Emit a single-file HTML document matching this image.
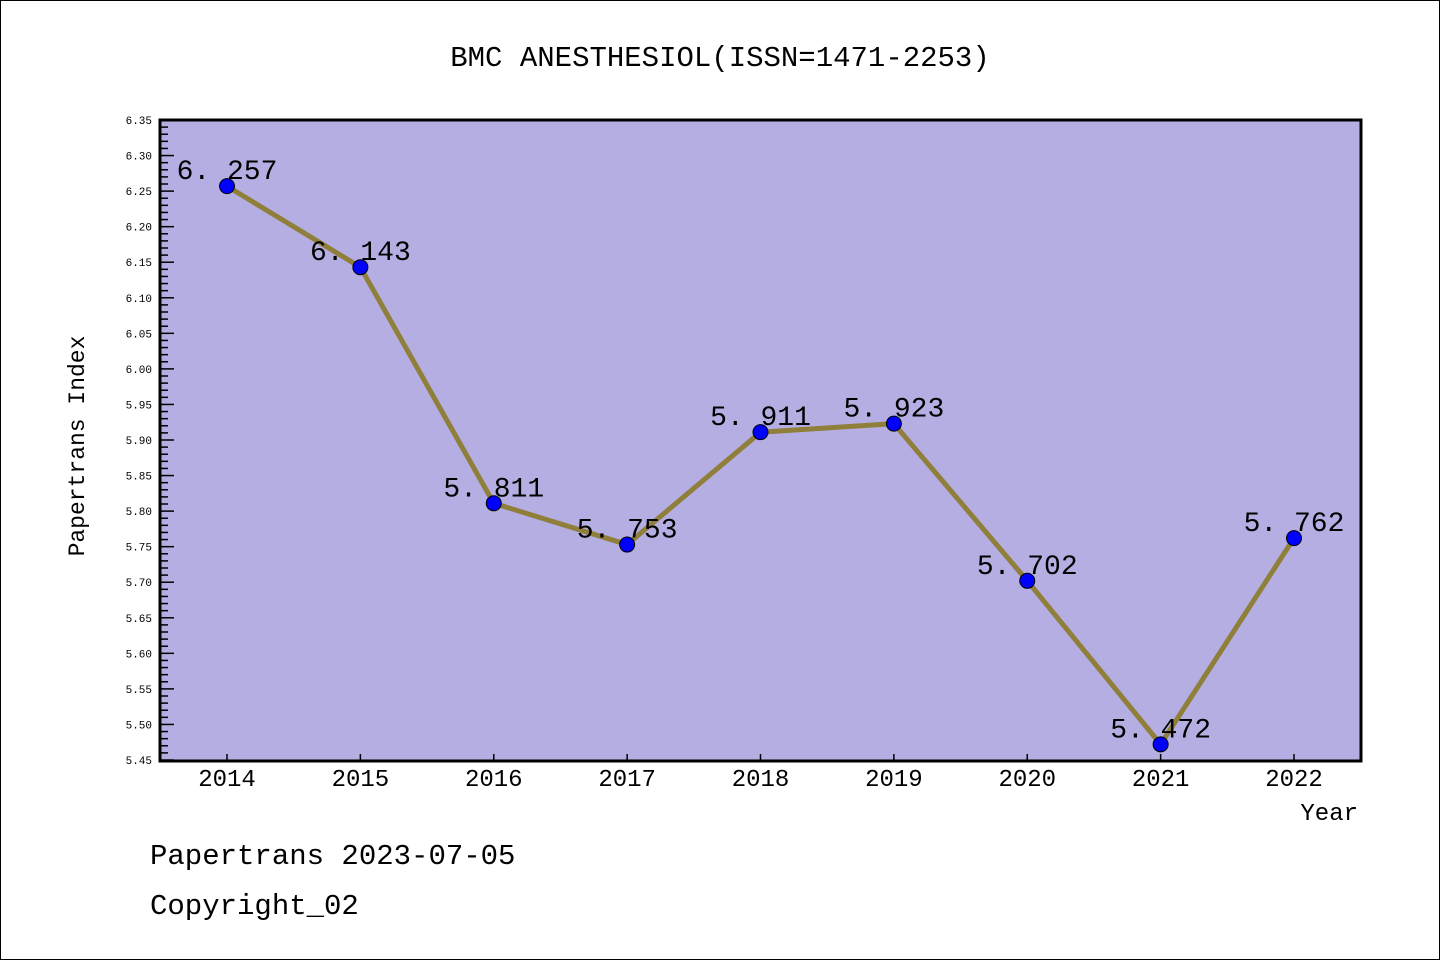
<!DOCTYPE html>
<html><head><meta charset="utf-8"><style>
body{margin:0;background:#fff}
svg{display:block}
text{font-family:"Liberation Mono","DejaVu Sans Mono",monospace}
</style></head><body>
<svg width="1440" height="960" id="c">
<rect x="0.5" y="0.5" width="1439" height="959" fill="#fff" stroke="#000"/>
<text x="720" y="66" text-anchor="middle" font-size="29">BMC ANESTHESIOL(ISSN=1471-2253)</text>
<rect x="160" y="120" width="1201" height="641" fill="#b4aee2"/>
<g id="ticks"></g>
<g id="marks"></g>
<rect x="160" y="120" width="1201" height="641" fill="none" stroke="#000" stroke-width="3"/>
<text transform="translate(84,446) rotate(-90)" text-anchor="middle" font-size="23">Papertrans Index</text>
<text x="1358" y="820" text-anchor="end" font-size="24">Year</text>
<text x="150" y="864" font-size="29">Papertrans 2023-07-05</text>
<text x="150" y="914" font-size="29">Copyright_02</text>
</svg>
<script>
const years=[2014,2015,2016,2017,2018,2019,2020,2021,2022];
const values=[6.257,6.143,5.811,5.753,5.911,5.923,5.702,5.472,5.762];
const labels=["6.257","6.143","5.811","5.753","5.911","5.923","5.702","5.472","5.762"];
const yTicks=["5.45","5.50","5.55","5.60","5.65","5.70","5.75","5.80","5.85","5.90","5.95","6.00","6.05","6.10","6.15","6.20","6.25","6.30","6.35"];
const yMin=5.45,yMax=6.35;
const NS="http://www.w3.org/2000/svg";
function X(i){return 227+i*(1294-227)/(years.length-1);}
function Y(v){return 760-(v-yMin)/(yMax-yMin)*640;}
function mk(t,a,p){const e=document.createElementNS(NS,t);for(const k in a)e.setAttribute(k,a[k]);p.appendChild(e);return e;}
const tg=document.getElementById('ticks'),mg=document.getElementById('marks');
for(let v=0;v<=90;v++){
 const y=Y(yMin+v*0.01);const major=v%5==0;
 const l=mk('line',{x1:160,x2:major?174:168,y1:y,y2:y,stroke:'#000','stroke-width':1.5},tg);
 
 
}
yTicks.forEach(s=>{
 const t=mk('text',{x:152,y:Y(parseFloat(s))+4,'text-anchor':'end','font-size':11,'font-family':'Liberation Sans, sans-serif'},tg);
 t.textContent=s;
 
 
});
years.forEach((yr,i)=>{
 const l=mk('line',{x1:X(i),x2:X(i),y1:760,y2:754,stroke:'#000','stroke-width':1.5},tg);
 
 
 const t=mk('text',{x:X(i),y:786,'text-anchor':'middle','font-size':24,'font-family':'Liberation Sans, sans-serif'},tg);
 t.textContent=yr;
 
 
});
const pl=mk('polyline',{points:values.map((v,i)=>X(i)+','+Y(v)).join(' '),fill:'none',stroke:'#8f7f3a','stroke-width':5},mg);


values.forEach((v,i)=>{
 const c=mk('circle',{cx:X(i),cy:Y(v),r:7.5,fill:'#0000ff',stroke:'#000','stroke-width':1},mg);
 
 
});
values.forEach((v,i)=>{
 const t=mk('text',{x:X(i),y:Y(v)-7,'text-anchor':'middle','font-size':28},mg);
 t.textContent=labels[i].replace('.','. ');
 
 
});
</script>
</body></html>
